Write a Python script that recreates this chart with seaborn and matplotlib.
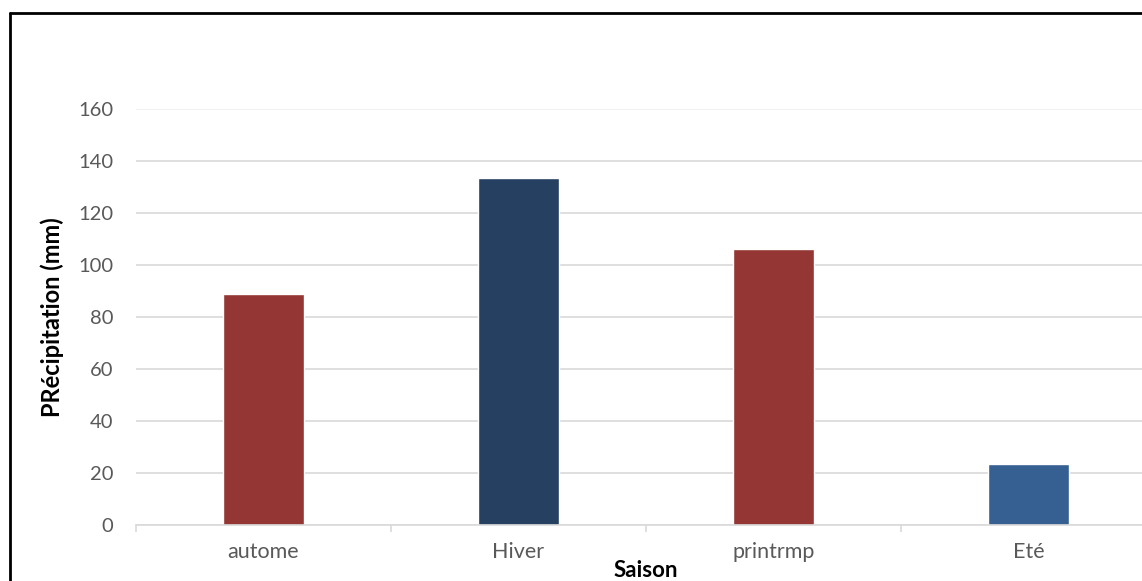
import matplotlib
matplotlib.use("Agg")
import matplotlib.pyplot as plt
from matplotlib.lines import Line2D
import seaborn as sns
import pandas as pd

# Seasonal precipitation
saisons = ["autome", "Hiver", "printrmp", "Eté"]
precipitation = [88.8, 133.5, 106.0, 23.5]
couleurs = ["#943634", "#254061", "#943634", "#366092"]
yticks = [0, 20, 40, 60, 80, 100, 120, 140, 160]

sns.set_theme(style="white")
plt.rcParams["font.family"] = ["Lato", "DejaVu Sans"]

W, H = 1142, 581
fig = plt.figure(figsize=(W / 100, H / 100), dpi=100)
fig.patch.set_facecolor("white")

# axes box in pixel terms: x from 136 to 1156 (past the right edge), y from 109 to 525
x0, x1, ytop, ybot = 136, 1156, 109, 525
ax = fig.add_axes([x0 / W, (H - ybot) / H, (x1 - x0) / W, (ybot - ytop) / H])

df = pd.DataFrame({"Saison": saisons, "Precip": precipitation})
sns.barplot(data=df, x="Saison", y="Precip", hue="Saison", palette=couleurs,
            width=0.315, legend=False, saturation=1, ax=ax, zorder=3)

ax.set_xlim(-0.5, len(saisons) - 0.5)
ax.set_ylim(0, 160)
ax.set_yticks(yticks)
ax.yaxis.grid(True, color="#d9d9d9", linewidth=1.2, zorder=0)
ax.get_ygridlines()[-1].set_color("#efefef")
ax.set_axisbelow(True)

for s in ["top", "right", "left"]:
    ax.spines[s].set_visible(False)
ax.spines["bottom"].set_color("#d9d9d9")
ax.spines["bottom"].set_linewidth(1.2)
ax.spines["bottom"].set_zorder(4)

# category separators on the x-axis
ax.set_xticks([i - 0.5 for i in range(len(saisons) + 1)], minor=True)
ax.tick_params(axis="x", which="minor", length=5, width=1.2, color="#d9d9d9", bottom=True)
ax.tick_params(axis="x", which="major", length=0, pad=12, labelsize=15.5, labelcolor="#595959")
ax.tick_params(axis="y", length=0, pad=16.5, labelsize=14.5, labelcolor="#595959")

ax.set_xlabel("Saison", fontsize=16, fontweight="bold", color="black")
ax.xaxis.label.set_va("baseline")
ax.xaxis.set_label_coords((646 - x0) / (x1 - x0), -(577 - ybot) / (ybot - ytop))

ax.set_ylabel("PRécipitation (mm)", fontsize=17, fontweight="bold", color="black")
ax.yaxis.set_label_coords((64 - x0) / (x1 - x0), 0.5)

# outer frame (left and top edges)
fig.add_artist(Line2D([10 / W, 10 / W], [0, 1 - 13 / H], transform=fig.transFigure,
                      color="black", linewidth=2))
fig.add_artist(Line2D([10 / W, 1], [1 - 13 / H, 1 - 13 / H], transform=fig.transFigure,
                      color="black", linewidth=2))

fig.savefig("out.png", dpi=100, facecolor="white")
